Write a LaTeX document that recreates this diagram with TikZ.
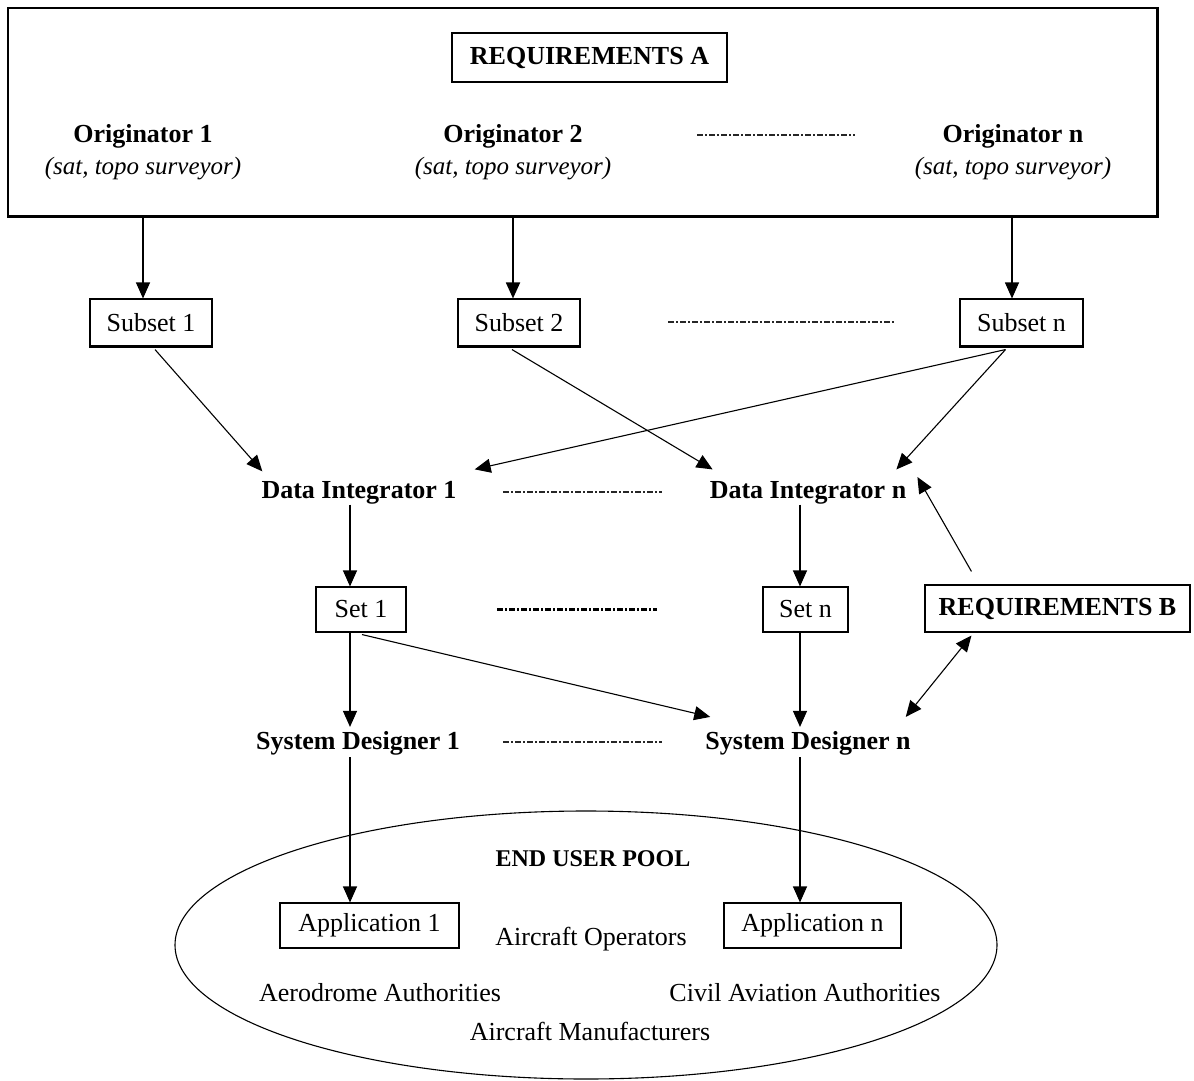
\documentclass[tikz,border=0pt]{standalone}
\usepackage{fontspec}
\setmainfont{Liberation Serif}
\usetikzlibrary{arrows.meta,calc,shapes.geometric}
\begin{document}
\begin{tikzpicture}[x=1pt,y=-1pt,
  every node/.style={font=\fontsize{26}{30}\selectfont, inner sep=0pt},
  bx/.style={draw, line width=1.1pt, inner sep=0pt, minimum height=46pt},
  bld/.style={font=\fontsize{26}{30}\selectfont\bfseries},
  itl/.style={font=\fontsize{25}{30}\selectfont\itshape},
  arr/.style={-{Triangle[length=16pt,width=14pt]}, line width=1.1pt},
  darr/.style={{Triangle[length=16pt,width=14pt]}-{Triangle[length=16pt,width=14pt]}, line width=1.1pt},
  dd/.style={line width=1.3pt, black!85, dash pattern=on 6pt off 2pt on 2pt off 2pt}]
\useasboundingbox (0,0) rectangle (1194,1081);

% top box
\node[draw, line width=1.3pt, minimum width=1149pt, minimum height=208pt] (outer) at (582.5,112) {};
\draw[line width=2pt] (outer.north east) -- (outer.south east) -- (outer.south west);
\node[bx, bld, minimum width=275pt, minimum height=49pt] (reqA) at (589.5,57.5) {REQUIREMENTS A};
\node[bld] (o1) at (143,136) {Originator 1};
\node[itl] (o1s) at (143,169) {(sat, topo surveyor)};
\node[bld] (o2) at (513,136) {Originator 2};
\node[itl] (o2s) at (513,169) {(sat, topo surveyor)};
\node[bld] (on) at (1013,136) {Originator n};
\node[itl] (ons) at (1013,169) {(sat, topo surveyor)};
\coordinate (dA1) at (697,135); \coordinate (dA2) at (855,135);
\draw[dd] (dA1) -- (dA2);

% subsets
\node[bx, minimum width=122pt, minimum height=47pt] (s1) at (151,322.5) {Subset 1};
\node[bx, minimum width=122pt, minimum height=47pt] (s2) at (519,322.5) {Subset 2};
\node[bx, minimum width=123pt, minimum height=47pt] (sn) at (1021.5,322.5) {Subset n};
\foreach \n in {s1,s2,sn}{\draw[line width=2pt] (\n.south west) -- (\n.south east);}
\coordinate (dB1) at (668,322); \coordinate (dB2) at (895,322);
\draw[dd] (dB1) -- (dB2);

\draw[arr] (o1 |- outer.south) -- (o1 |- s1.north);
\draw[arr, line width=1.8pt] (o2 |- outer.south) -- (o2 |- s2.north);
\draw[arr] ($(on |- outer.south)+(-1,0)$) -- ($(on |- sn.north)+(-1,0)$);

% data integrators
\node[bld] (di1) at (359,493) {Data Integrator 1};
\node[bld] (din) at (808,493) {Data Integrator n};
\coordinate (dC1) at (503,492); \coordinate (dC2) at (662,492);
\draw[dd] (dC1) -- (dC2);

\draw[arr] ($(s1.south)+(4,3)$) -- ($(di1.north west)+(1,-10)$);
\draw[arr] ($(s2.south)+(-7,3)$) -- ($(din.north west)+(3,-12)$);
\draw[arr] ($(sn.south)+(-16,3)$) -- ($(di1.north east)+(18,-12)$);
\draw[arr] ($(sn.south)+(-16,3)$) -- ($(din.north east)+(-10,-12)$);

% sets
\node[bx, minimum width=90pt, minimum height=45pt] (set1) at (361,609.5) {Set 1};
\node[bx, minimum width=85pt, minimum height=45pt] (setn) at (805.5,609.5) {Set n};
\node[bx, bld, minimum width=265pt, minimum height=47pt] (reqB) at (1057.5,608.5) {REQUIREMENTS B};
\coordinate (dD1) at (497,609); \coordinate (dD2) at (657,609);
\draw[dd, line width=3pt, black] (dD1) -- (dD2);

\draw[arr] (di1.south -| 350,0) -- (set1.north -| 350,0);
\draw[arr] (din.south -| 800,0) -- (setn.north -| 800,0);
\draw[arr] ($(reqB.north west)+(47,-13)$) -- ($(din.east)+(11,-16)$);

% system designers
\node[bld] (sd1) at (358,743) {System Designer 1};
\node[bld] (sdn) at (808,743) {System Designer n};
\coordinate (dE1) at (503,742); \coordinate (dE2) at (662,742);
\draw[dd] (dE1) -- (dE2);

\draw[arr] (set1.south -| 350,0) -- ($(sd1.north -| 350,0)+(0,-4)$);
\draw[arr] ($(set1.south)+(1,2)$) -- ($(sdn.north west)+(5,-14)$);
\draw[arr] (setn.south -| 800,0) -- ($(sdn.north -| 800,0)+(0,-4)$);
\draw[darr] ($(reqB.south west)+(47,3)$) -- ($(sdn.north east)+(-5,-14)$);

% end user pool
\node[draw, ellipse, line width=1.1pt, minimum width=822pt, minimum height=268pt] (pool) at (586,945) {};
\node[bld, font=\fontsize{24}{28}\selectfont\bfseries] (eup) at (593,859) {END USER POOL};
\node[bx, minimum width=179pt, minimum height=45pt] (app1) at (369.5,925.5) {Application 1};
\node[bx, minimum width=177pt, minimum height=45pt] (appn) at (812.5,925.5) {Application n};
\node (aop) at (591,939) {Aircraft Operators};
\node (aero) at (380,993) {Aerodrome Authorities};
\node (civ) at (805,993) {Civil Aviation Authorities};
\node (man) at (590,1031) {Aircraft Manufacturers};

\draw[arr] ($(sd1.south -| 350,0)+(0,2)$) -- (app1.north -| 350,0);
\draw[arr] ($(sdn.south -| 800,0)+(0,2)$) -- (appn.north -| 800,0);
\end{tikzpicture}
\end{document}
